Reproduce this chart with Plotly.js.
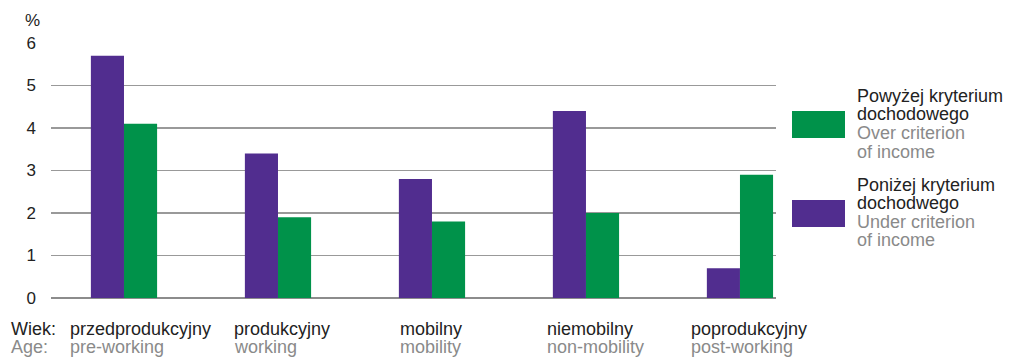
<!DOCTYPE html>
<html>
<head>
<meta charset="utf-8">
<script src="https://cdn.plot.ly/plotly-3.0.1.min.js"></script>
<style>html,body{margin:0;padding:0;background:#fff;}#chart{width:1012px;height:357px;}</style>
</head>
<body>
<div id="chart"></div>
<script>
const categoriesPL = ["przedprodukcyjny", "produkcyjny", "mobilny", "niemobilny", "poprodukcyjny"];
const categoriesEN = ["pre-working", "working", "mobility", "non-mobility", "post-working"];
const underIncome = [5.7, 3.4, 2.8, 4.4, 0.7];   // Poniżej kryterium dochodowego
const overIncome  = [4.1, 1.9, 1.8, 2.0, 2.9];   // Powyżej kryterium dochodowego
const yTicks = [0, 1, 2, 3, 4, 5, 6];

const W = 1012, H = 357;
const L = 51, R = 776, T = 43, B = 298;
const px2x = p => (p - L) / (R - L);
const px2y = p => (B - p) / (B - T);

const xIdx = categoriesPL.map((_, i) => i);
const purple = "#512D8F", green = "#00924A";
const dark = "#222222", grey = "#8a8a8a";
const font = "'Liberation Sans', Arial, sans-serif";
const fs = 18;

const traces = [
  {type: "bar", x: xIdx, y: underIncome, marker: {color: purple}, hoverinfo: "skip", showlegend: false},
  {type: "bar", x: xIdx, y: overIncome, marker: {color: green}, hoverinfo: "skip", showlegend: false}
];

// label left-edge offsets (px) relative to category centre
const labelShift = [-56, -46, -34, -41, -51];
const annotations = [];
xIdx.forEach((i) => {
  annotations.push({x: i, xref: "x", xshift: labelShift[i], xanchor: "left", y: px2y(329), yref: "paper", yanchor: "middle",
    text: categoriesPL[i], showarrow: false, font: {family: font, size: fs, color: dark}});
  annotations.push({x: i, xref: "x", xshift: labelShift[i], xanchor: "left", y: px2y(347), yref: "paper", yanchor: "middle",
    text: categoriesEN[i], showarrow: false, font: {family: font, size: fs, color: grey}});
});
annotations.push({x: px2x(9), xref: "paper", xanchor: "left", y: px2y(329), yref: "paper", yanchor: "middle",
  text: "Wiek:", showarrow: false, font: {family: font, size: fs, color: dark}});
annotations.push({x: px2x(9), xref: "paper", xanchor: "left", y: px2y(347), yref: "paper", yanchor: "middle",
  text: "Age:", showarrow: false, font: {family: font, size: fs, color: grey}});
annotations.push({x: px2x(32), xref: "paper", xanchor: "center", y: px2y(20), yref: "paper", yanchor: "middle",
  text: "%", showarrow: false, font: {family: font, size: 17, color: dark}});

const legendLines = [
  ["Powyżej kryterium", dark, 96], ["dochodowego", dark, 114], ["Over criterion", grey, 133], ["of income", grey, 152],
  ["Poniżej kryterium", dark, 185], ["dochodwego", dark, 203], ["Under criterion", grey, 222], ["of income", grey, 240]
];
legendLines.forEach(([t, c, py]) => {
  annotations.push({x: px2x(855), xref: "paper", xanchor: "left", y: px2y(py), yref: "paper", yanchor: "middle",
    text: t, showarrow: false, font: {family: font, size: fs, color: c}});
});

const shapes = [
  {type: "rect", xref: "paper", yref: "paper", x0: px2x(792), x1: px2x(845), y0: px2y(111), y1: px2y(138), fillcolor: green, line: {width: 0}},
  {type: "rect", xref: "paper", yref: "paper", x0: px2x(792), x1: px2x(845), y0: px2y(200), y1: px2y(227), fillcolor: purple, line: {width: 0}}
];

const x0 = -0.474, x1 = 4.234;
const layout = {
  width: W, height: H,
  margin: {l: L, r: W - R, t: T, b: H - B, pad: 0},
  paper_bgcolor: "#fff", plot_bgcolor: "#fff",
  barmode: "group", bargap: 0.57, bargroupgap: 0,
  showlegend: false,
  font: {family: font, size: fs, color: dark},
  xaxis: {range: [x0, x1], showticklabels: false, showgrid: false, zeroline: false, showline: false, ticks: "", fixedrange: true},
  yaxis: {range: [0, 6], tickvals: yTicks, ticktext: yTicks.map(String), showgrid: true, gridcolor: "#999999", gridwidth: 1.3,
    zeroline: true, zerolinecolor: "#8c8c8c", zerolinewidth: 2.5, showline: false, ticks: "", ticklabelstandoff: 14,
    tickfont: {family: font, size: 17, color: dark}, fixedrange: true},
  annotations: annotations,
  shapes: shapes
};

Plotly.newPlot("chart", traces, layout, {displayModeBar: false, staticPlot: true});
</script>
</body>
</html>
